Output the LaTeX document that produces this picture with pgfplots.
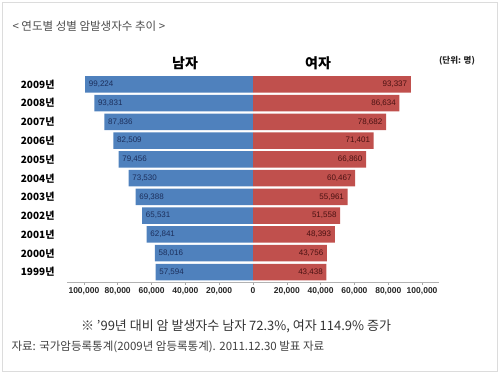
\documentclass[border=0pt]{standalone}
\usepackage{pgfplots}
\pgfplotsset{compat=1.18}
\usepackage{fontspec}
\setmainfont{Liberation Sans}
\newfontfamily\kr{Noto Sans CJK KR}
\definecolor{mblue}{HTML}{4F81BD}
\definecolor{fred}{HTML}{C0504D}
\definecolor{mtxt}{HTML}{1C2F5C}
\definecolor{ftxt}{HTML}{4A1212}
\definecolor{framegray}{HTML}{DCDCDC}
\begin{document}
\begin{tikzpicture}[x=1pt,y=1pt]
\useasboundingbox (0,0) rectangle (500,376);
\draw[framegray, line width=1pt] (2,5) rectangle (497,373);
\node[anchor=west, text=black!70, font=\kr\fontsize{11.5}{13}\selectfont] at (9,350) {< 연도별 성별 암발생자수 추이 >};
\node[font=\kr\bfseries\fontsize{14}{16}\selectfont] at (185,313) {남자};
\node[font=\kr\bfseries\fontsize{14}{16}\selectfont] at (318,313) {여자};
\node[font=\kr\bfseries\fontsize{8.5}{10}\selectfont, text=black!85] at (457,315) {(단위: 명)};
\node[font=\kr\fontsize{13}{15}\selectfont, text=black!80] at (236,50) {※ ’99년 대비 암 발생자수 남자 72.3\%, 여자 114.9\% 증가};
\node[anchor=west, font=\kr\fontsize{11.5}{13}\selectfont, text=black!75] at (8,29) {자료: 국가암등록통계(2009년 암등록통계). 2011.12.30 발표 자료};
\begin{axis}[
  at={(67pt,94pt)}, anchor=south west,
  scale only axis, width=372pt, height=207pt,
  xmin=-110000, xmax=110000,
  ymin=-0.533, ymax=10.5,
  xbar, bar width=16.5pt, bar shift=0pt,
  axis x line*=bottom, axis y line*=left,
  x axis line style={draw=black!30, line width=0.8pt},
  y axis line style={draw=none},
  xtick={-100000,-80000,-60000,-40000,-20000,0,20000,40000,60000,80000,100000},
  xticklabels={{100,000},{80,000},{60,000},{40,000},{20,000},0,{20,000},{40,000},{60,000},{80,000},{100,000}},
  scaled x ticks=false,
  xtick style={draw=black!35, line width=0.6pt},
  tick align=outside, major tick length=3pt,
  xticklabel style={font=\bfseries\fontsize{8.5}{10}\selectfont, text=black!85, yshift=1pt},
  ytick={0,1,2,3,4,5,6,7,8,9,10},
  yticklabels={1999년,2000년,2001년,2002년,2003년,2004년,2005년,2006년,2007년,2008년,2009년},
  yticklabel style={font=\kr\bfseries\fontsize{10}{11}\selectfont, xshift=-6pt},
  ytick style={draw=none},
  /pgf/number format/assume math mode=true,
  point meta=explicit,
  nodes near coords={\pgfmathprintnumber[fixed,precision=0,1000 sep={,},assume math mode=true]{\pgfplotspointmeta}},
  clip=false,
]
\addplot[fill=mblue, draw=none,
  every node near coord/.append style={anchor=west, inner sep=1pt, xshift=2.5pt, text=mtxt, font=\fontsize{8}{9}\selectfont}]
  coordinates {
  (-57594,0) [57594]
  (-58016,1) [58016]
  (-62841,2) [62841]
  (-65531,3) [65531]
  (-69388,4) [69388]
  (-73530,5) [73530]
  (-79456,6) [79456]
  (-82509,7) [82509]
  (-87836,8) [87836]
  (-93831,9) [93831]
  (-99224,10) [99224]
  };
\addplot[fill=fred, draw=none,
  every node near coord/.append style={anchor=east, inner sep=1pt, xshift=-2.5pt, text=ftxt, font=\fontsize{8}{9}\selectfont}]
  coordinates {
  (43438,0) [43438]
  (43756,1) [43756]
  (48393,2) [48393]
  (51558,3) [51558]
  (55961,4) [55961]
  (60467,5) [60467]
  (66860,6) [66860]
  (71401,7) [71401]
  (78682,8) [78682]
  (86634,9) [86634]
  (93337,10) [93337]
  };
\end{axis}
\end{tikzpicture}
\end{document}
